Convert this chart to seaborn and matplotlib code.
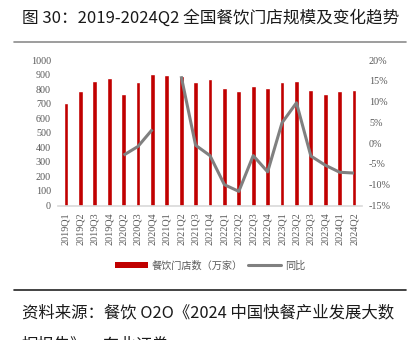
import numpy as np
import pandas as pd
import seaborn as sns
import matplotlib.pyplot as plt
from matplotlib.lines import Line2D
from matplotlib.patches import Patch

sns.set_theme(style="white")
plt.rcParams['font.family'] = ['Noto Sans CJK SC', 'DejaVu Sans']

quarters = ["2019Q1", "2019Q2", "2019Q3", "2019Q4", "2020Q2", "2020Q3", "2020Q4",
            "2021Q1", "2021Q2", "2021Q3", "2021Q4", "2022Q1", "2022Q2", "2022Q3",
            "2022Q4", "2023Q1", "2023Q2", "2023Q3", "2023Q4", "2024Q1", "2024Q2"]
stores = [702, 789, 858, 874, 767, 847, 902, 897, 888, 847, 870, 805, 785, 822,
          810, 847, 858, 796, 769, 787, 796]
yoy = [np.nan, np.nan, np.nan, np.nan, -2.9, -0.8, 3.3, np.nan, 16.1, -0.5, -3.0,
       -10.0, -11.6, -3.0, -6.9, 4.9, 9.7, -3.1, -5.3, -7.0, -7.2]

df = pd.DataFrame({"quarter": quarters, "stores": stores, "yoy": yoy})
df["pos"] = np.arange(len(df))

W, H = 413, 340
fig = plt.figure(figsize=(W / 100, H / 100), dpi=100)
ax = fig.add_axes([58 / W, 1 - 205.5 / H, (362 - 58) / W, (205.5 - 60) / H])

red = "#C00000"
grey = "#808080"
tick_col = "#595959"
serif = ["Liberation Serif", "DejaVu Serif"]

sns.barplot(data=df, x="pos", y="stores", color=red, width=0.33, ax=ax,
            saturation=1, native_scale=True)
ax.set_xlim(-0.55, len(df) - 0.45)
ax.set_ylim(0, 1000)
ax.set_yticks(np.arange(0, 1001, 100))
ax.set_yticklabels([str(v) for v in range(0, 1001, 100)], fontfamily=serif,
                   fontsize=7.3, color=tick_col)
ax.set_xticks(df["pos"])
ax.set_xticklabels(quarters, rotation=90, fontfamily=serif, fontsize=7.3,
                   color=tick_col)
ax.set_xlabel("")
ax.set_ylabel("")
for s in ["top", "right", "left"]:
    ax.spines[s].set_visible(False)
ax.spines["bottom"].set_color("#D9D9D9")
ax.spines["bottom"].set_linewidth(1.2)
ax.tick_params(axis="y", length=0, pad=5)
ax.tick_params(axis="x", length=0, pad=5)
ax.grid(False)

ax2 = ax.twinx()
# line segments broken where YoY is missing
seg = df["yoy"].isna().cumsum()
for _, part in df[df["yoy"].notna()].groupby(seg[df["yoy"].notna()]):
    sns.lineplot(data=part, x="pos", y="yoy", color=grey, linewidth=2.2, ax=ax2,
                 solid_capstyle="butt", solid_joinstyle="round")
ax2.set_ylim(-15, 20)
ax2.set_yticks(np.arange(-15, 21, 5))
ax2.set_yticklabels([f"{v}%" for v in range(-15, 21, 5)], fontfamily=serif,
                    fontsize=7.3, color=tick_col)
ax2.set_ylabel("")
for s in ["top", "right", "left", "bottom"]:
    ax2.spines[s].set_visible(False)
ax2.tick_params(axis="both", length=0, pad=5)
ax2.grid(False)

handles = [Patch(facecolor=red, edgecolor="none"),
           Line2D([0], [0], color=grey, linewidth=2.2)]
leg = fig.legend(handles, ["餐饮门店数（万家）", "同比"], loc="center",
                 bbox_to_anchor=(210 / W, 1 - 265.5 / H), ncol=2, frameon=False,
                 fontsize=7.3, handlelength=3.3, handleheight=0.6,
                 columnspacing=0.5, handletextpad=0.35)
for t in leg.get_texts():
    t.set_color(tick_col)

fig.text(22 / W, 1 - 18 / H, "图 30：2019-2024Q2 全国餐饮门店规模及变化趋势",
         fontsize=12, color="#1a1a1a", va="center", ha="left")
fig.add_artist(Line2D([14 / W, 406 / W], [1 - 42 / H, 1 - 42 / H],
                      color="#8c8c8c", linewidth=1.2))
fig.add_artist(Line2D([14 / W, 406 / W], [1 - 289.5 / H, 1 - 289.5 / H],
                      color="#222222", linewidth=1.2))
fig.text(22 / W, 1 - 313 / H, "资料来源：餐饮 O2O《2024 中国快餐产业发展大数",
         fontsize=11.8, color="#1a1a1a", va="center", ha="left")
fig.text(22 / W, 1 - 336 / H, "据报告》，东北证券",
         fontsize=11.8, color="#1a1a1a", va="top", ha="left")

fig.savefig("out.png", dpi=100)
